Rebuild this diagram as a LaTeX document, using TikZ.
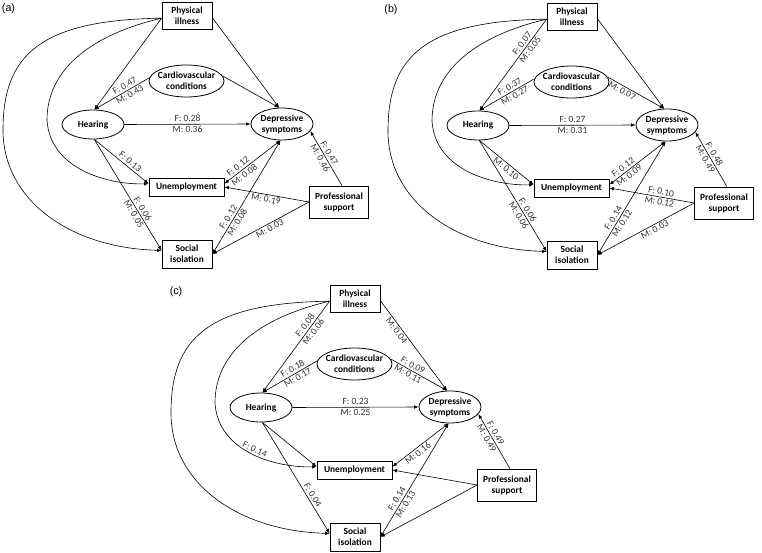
\documentclass[tikz,border=0pt]{standalone}
\usepackage{fontspec}
\setmainfont{Carlito}
\newfontfamily\plfont{Liberation Sans}
\usetikzlibrary{arrows.meta,shapes.geometric}
\newcommand\bxfont{\bfseries\fontsize{9.4}{11}\selectfont}
\newcommand\lbfont{\fontsize{9.5}{11}\selectfont}
\tikzset{
  bx/.style={draw, line width=0.8pt, rectangle, inner sep=0pt, align=center, font=\bxfont},
  el/.style={draw, line width=0.8pt, ellipse, inner sep=0pt},
  eltxt/.style={font=\bxfont, align=center, inner sep=0pt},
  ar/.style={line width=0.6pt, -{Latex[length=4.5pt,width=3.6pt]}},
  dar/.style={line width=0.6pt, {Latex[length=4.5pt,width=3.6pt]}-{Latex[length=4.5pt,width=3.6pt]}},
  lab/.style={font=\lbfont, text=black!80, sloped, inner sep=0.8pt},
  fa/.style={lab, above=1.2pt, pos=#1},
  mb/.style={lab, below=0.6pt, pos=#1},
  pl/.style={font=\plfont\fontsize{10.7}{12}\selectfont, inner sep=0pt},
}
\newcommand\panelnodes{%
  \node[bx, minimum width=50pt, minimum height=27pt] (PI) at (187,15.5) {Physical\\illness};
  \node[el, minimum width=75pt, minimum height=32pt, label={[eltxt]center:{Cardiovascular\\conditions}}] (C) at (186.5,81) {};
  \node[el, minimum width=62pt, minimum height=29pt, label={[eltxt]center:Hearing}] (H) at (93,124.5) {};
  \node[el, minimum width=62pt, minimum height=32pt, label={[eltxt]center:{Depressive\\symptoms}}] (D) at (282,124) {};
  \node[bx, minimum width=75pt, minimum height=18pt] (U) at (186.5,187) {Unemployment};
  \node[bx, minimum width=59pt, minimum height=32pt] (PS) at (339,202) {Professional\\support};
  \node[bx, minimum width=50pt, minimum height=28pt] (SI) at (187,254) {Social\\isolation};
}
\begin{document}
\begin{tikzpicture}[x=1pt,y=-1pt]
\useasboundingbox (0,0) rectangle (762,553);
\fill[white] (0,0) rectangle (762,553);
% ---------------- panel (a)
\begin{scope}[name prefix=a-]
\node[pl] (lab) at (8.5,8.5) {(a)};
\panelnodes
\draw[ar] (PI.186) -- (H.85);
\draw[ar] (C.175) -- (H.85) node[fa=0.4]{F: 0.47} node[mb=0.4]{M: 0.43};
\draw[ar] (PI.-5) -- (D.100);
\draw[ar] (C.8) -- (D.100);
\draw[ar] (H.east) -- (D.west) node[fa=0.5]{F: 0.28} node[mb=0.5]{M: 0.36};
\draw[ar] (PI.186) .. controls (90,35) and (47,70) .. (47,120) .. controls (50,170) and (110,185) .. (U.175);
\draw[ar] (PI.186) .. controls (40,20) and (3,55) .. (3,130) .. controls (3,200) and (70,248) .. (SI.172);
\draw[ar] (H.-85) -- (U.175) node[fa=0.6]{F: 0.13};
\draw[ar] (H.-85) -- (SI.172) node[fa=0.65]{F: 0.06} node[mb=0.65]{M: 0.05};
\draw[dar] (U.5) -- (D.265) node[fa=0.3]{F: 0.12} node[mb=0.3]{M: 0.08};
\draw[dar] (SI.east) -- (D.265) node[fa=0.3]{F: 0.12} node[mb=0.3]{M: 0.08};
\draw[ar] (PS.80) -- (D.-14) node[fa=0.55]{F: 0.47} node[mb=0.55]{M: 0.46};
\draw[ar] (PS.west) -- (U.east) node[mb=0.5]{M: 0.19};
\draw[ar] (PS.west) -- (SI.east) node[mb=0.43]{M: 0.03};
\end{scope}
% ---------------- panel (b)
\begin{scope}[name prefix=b-, shift={(385,1)}]
\node[pl] (lab) at (6,9) {(b)};
\panelnodes
\draw[ar] (PI.186) -- (H.85) node[fa=0.3]{F: 0.07} node[mb=0.3]{M: 0.05};
\draw[ar] (C.175) -- (H.85) node[fa=0.4]{F: 0.37} node[mb=0.4]{M: 0.27};
\draw[ar] (PI.-5) -- (D.100);
\draw[ar] (C.8) -- (D.100) node[mb=0.3]{M: 0.07};
\draw[ar] (H.east) -- (D.west) node[fa=0.5]{F: 0.27} node[mb=0.5]{M: 0.31};
\draw[ar] (PI.186) .. controls (90,35) and (47,70) .. (47,120) .. controls (50,170) and (110,185) .. (U.175);
\draw[ar] (PI.186) .. controls (40,20) and (3,55) .. (3,130) .. controls (3,200) and (70,248) .. (SI.172);
\draw[ar] (H.-85) -- (U.175) node[mb=0.55]{M: 0.10};
\draw[ar] (H.-85) -- (SI.172) node[fa=0.65]{F: 0.06} node[mb=0.65]{M: 0.06};
\draw[dar] (U.5) -- (D.265) node[fa=0.3]{F: 0.12} node[mb=0.3]{M: 0.09};
\draw[dar] (SI.east) -- (D.265) node[fa=0.3]{F: 0.14} node[mb=0.3]{M: 0.12};
\draw[ar] (PS.80) -- (D.-14) node[fa=0.55]{F: 0.48} node[mb=0.55]{M: 0.49};
\draw[ar] (PS.west) -- (U.east) node[fa=0.4]{F: 0.10} node[mb=0.4]{M: 0.12};
\draw[ar] (PS.west) -- (SI.east) node[mb=0.43]{M: 0.03};
\end{scope}
% ---------------- panel (c)
\begin{scope}[name prefix=c-, shift={(168,283)}]
\node[pl] (lab) at (8,9) {(c)};
\panelnodes
\draw[ar] (PI.186) -- (H.85) node[fa=0.3]{F: 0.08} node[mb=0.3]{M: 0.06};
\draw[ar] (C.175) -- (H.85) node[fa=0.4]{F: 0.18} node[mb=0.4]{M: 0.17};
\draw[ar] (PI.-5) -- (D.100) node[mb=0.3]{M: 0.04};
\draw[ar] (C.8) -- (D.100) node[fa=0.35]{F: 0.09} node[mb=0.35]{M: 0.11};
\draw[ar] (H.east) -- (D.west) node[fa=0.5]{F: 0.23} node[mb=0.5]{M: 0.25};
\draw[ar] (PI.186) .. controls (90,35) and (47,70) .. (47,120) .. controls (50,170) and (110,185) .. (U.175) node[fa=0.5]{F: 0.14};
\draw[ar] (PI.186) .. controls (40,20) and (3,55) .. (3,130) .. controls (3,200) and (70,248) .. (SI.172);
\draw[ar] (H.-85) -- (U.175);
\draw[ar] (H.-85) -- (SI.172) node[fa=0.68]{F: 0.04};
\draw[dar] (U.5) -- (D.265) node[mb=0.4]{M: 0.16};
\draw[dar] (SI.east) -- (D.265) node[fa=0.31]{F: 0.14} node[mb=0.31]{M: 0.13};
\draw[ar] (PS.80) -- (D.-14) node[fa=0.6]{F: 0.49} node[mb=0.6]{M: 0.49};
\draw[ar] (PS.west) -- (U.east);
\draw[ar] (PS.west) -- (SI.east);
\end{scope}
\end{tikzpicture}
\end{document}
